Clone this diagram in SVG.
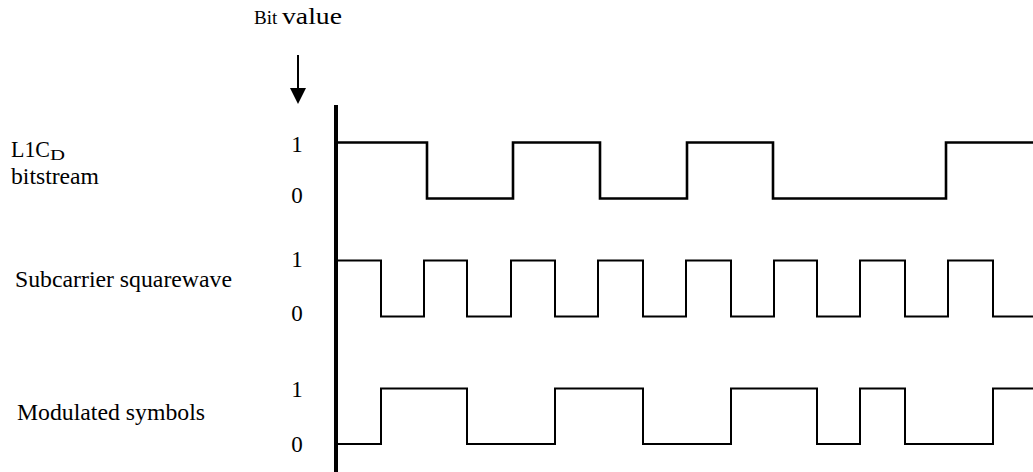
<svg xmlns="http://www.w3.org/2000/svg" width="1033" height="472" viewBox="0 0 1033 472">
<style>
text{font-family:"Liberation Serif","Times New Roman",serif;fill:#000}
.lbl{font-size:23px}
.num{font-size:23px;text-anchor:middle}
.wave{fill:none;stroke:#000;stroke-width:2;stroke-linejoin:miter;stroke-linecap:square}
.thick{stroke-width:2.6}
</style>
<rect width="1033" height="472" fill="#fff"/>
<g id="title">
<text x="254" y="24" style="font-size:19px">Bit</text>
<text x="282" y="24" style="font-size:23px" textLength="60" lengthAdjust="spacingAndGlyphs">value</text>
</g>
<g id="arrow">
<line x1="298" y1="55" x2="298" y2="92" stroke="#000" stroke-width="2"/>
<polygon points="290,88 306,88 298,104" fill="#000"/>
</g>
<g id="axis">
<line x1="336" y1="105" x2="336" y2="472" stroke="#000" stroke-width="4"/>
</g>
<g id="labels">
<text class="lbl" x="11" y="157" textLength="39" lengthAdjust="spacingAndGlyphs">L1C</text>
<text x="50" y="160" style="font-size:15px" textLength="15" lengthAdjust="spacingAndGlyphs">D</text>
<text class="lbl" x="11" y="184" textLength="88" lengthAdjust="spacingAndGlyphs">bitstream</text>
<text class="lbl" x="15" y="287" textLength="217" lengthAdjust="spacingAndGlyphs">Subcarrier squarewave</text>
<text class="lbl" x="17" y="420" textLength="188" lengthAdjust="spacingAndGlyphs">Modulated symbols</text>
</g>
<g id="levels">
<text class="num" x="297" y="152">1</text>
<text class="num" x="297" y="203">0</text>
<text class="num" x="297" y="267">1</text>
<text class="num" x="297" y="321">0</text>
<text class="num" x="297" y="397">1</text>
<text class="num" x="297" y="452">0</text>
</g>
<g id="waveforms">
<path id="bitstream" class="wave thick" d="M338,142.5 H427 V198.5 H513 V142.5 H600 V198.5 H687 V142.5 H773 V198.5 H946 V142.5 H1034"/>
<path id="subcarrier" class="wave" d="M338,260.5 H381 V316.5 H424 V260.5 H467 V316.5 H511 V260.5 H555 V316.5 H598 V260.5 H643 V316.5 H686 V260.5 H731 V316.5 H774 V260.5 H817 V316.5 H860 V260.5 H905 V316.5 H948 V260.5 H993 V316.5 H1034"/>
<path id="modulated" class="wave" d="M338,444 H381 V388.5 H467 V444 H555 V388.5 H643 V444 H731 V388.5 H817 V444 H860 V388.5 H905 V444 H993 V388.5 H1034"/>
</g>
</svg>
